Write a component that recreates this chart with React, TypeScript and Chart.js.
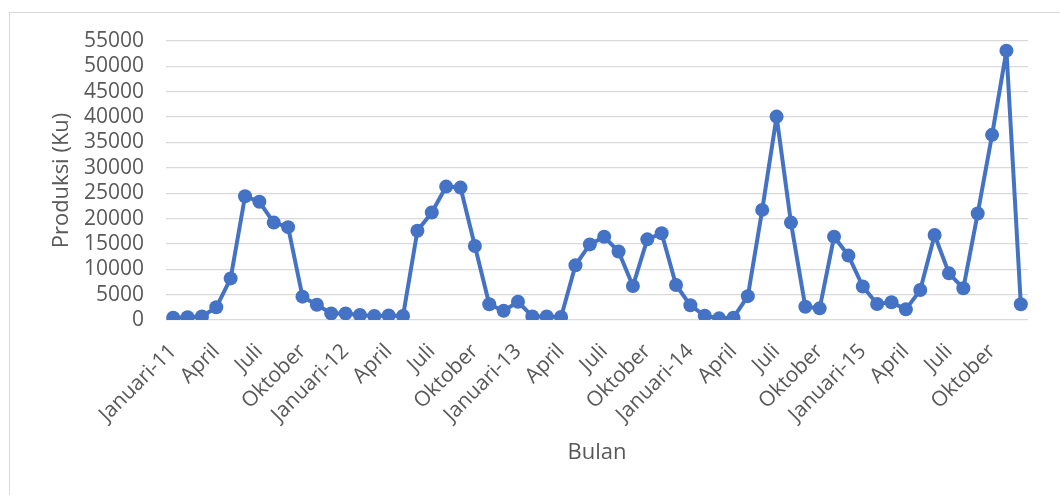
import React, { useEffect, useRef } from "react";
import { Chart, registerables } from "chart.js";

Chart.register(...registerables);

const monthNames = [
  "Januari", "Februari", "Maret", "April", "Mei", "Juni",
  "Juli", "Agustus", "September", "Oktober", "November", "Desember",
];
const years = ["11", "12", "13", "14", "15"];

const categories: string[] = years.flatMap((y) =>
  monthNames.map((m, i) => (i === 0 ? `${m}-${y}` : m))
);

const produksi2011 = [450, 550, 700, 2500, 8200, 24400, 23300, 19200, 18300, 4600, 3000, 1300];
const produksi2012 = [1300, 1000, 800, 900, 800, 17600, 21200, 26300, 26100, 14600, 3100, 1800];
const produksi2013 = [3600, 700, 700, 600, 10800, 14900, 16400, 13500, 6700, 15900, 17100, 6900];
const produksi2014 = [2900, 850, 330, 450, 4700, 21700, 40100, 19200, 2600, 2300, 16400, 12700];
const produksi2015 = [6600, 3150, 3500, 2100, 5900, 16750, 9200, 6250, 21000, 36500, 53100, 3100];

const produksi = [
  ...produksi2011, ...produksi2012, ...produksi2013, ...produksi2014, ...produksi2015,
];

const yTitle = "Produksi (Ku)";
const xTitle = "Bulan";

export default function App() {
  const canvasRef = useRef<HTMLCanvasElement | null>(null);

  useEffect(() => {
    if (!canvasRef.current) return;
    const textColor = "#595959";
    const chart = new Chart(canvasRef.current, {
      type: "line",
      data: {
        labels: categories,
        datasets: [
          {
            label: yTitle,
            data: produksi,
            borderColor: "#4472C4",
            backgroundColor: "#4472C4",
            borderWidth: 4,
            borderJoinStyle: "round",
            borderCapStyle: "round",
            pointRadius: 7,
            pointBackgroundColor: "#4472C4",
            pointBorderColor: "#4472C4",
            pointBorderWidth: 0,
            tension: 0,
          },
        ],
      },
      options: {
        responsive: false,
        animation: false,
        layout: { padding: { left: 40, top: 41, right: 32, bottom: 0 } },
        plugins: {
          legend: { display: false },
          tooltip: { enabled: false },
        },
        scales: {
          x: {
            offset: true,
            grid: { display: false, drawTicks: false },
            border: { display: false },
            ticks: {
              autoSkip: false,
              maxRotation: 45,
              minRotation: 45,
              padding: 19,
              color: textColor,
              font: { family: "'Open Sans'", size: 21 },
              callback: (_v: any, i: number) => (i % 3 === 0 ? categories[i] : ""),
            },
            title: {
              display: true,
              text: xTitle,
              color: textColor,
              font: { family: "'Open Sans'", size: 22 },
              padding: { top: 0, bottom: 29 },
            },
            afterFit: (scale: any) => {
              scale.height = 175;
            },
          },
          y: {
            min: 0,
            max: 55000,
            grid: { color: "#d9d9d9", lineWidth: 1.3, drawTicks: false },
            border: { display: false },
            ticks: {
              stepSize: 5000,
              autoSkip: false,
              padding: 22,
              color: textColor,
              font: { family: "'Open Sans'", size: 21 },
              callback: (v: any) => String(v),
            },
            title: {
              display: true,
              text: yTitle,
              color: textColor,
              font: { family: "'Open Sans'", size: 22 },
              padding: { top: 9, bottom: 0 },
            },
            afterFit: (scale: any) => {
              scale.width = 126;
            },
          },
        },
      },
    });
    return () => chart.destroy();
  }, []);

  return (
    <div
      style={{
        position: "fixed",
        left: 0,
        top: 0,
        width: 1060,
        height: 495,
        overflow: "hidden",
        background: "#ffffff",
      }}
    >
      <div
        style={{
          position: "absolute",
          left: 9,
          top: 12,
          width: 1100,
          height: 600,
          border: "1px solid #d9d9d9",
        }}
      />
      <canvas
        ref={canvasRef}
        width={1060}
        height={495}
        style={{ position: "absolute", left: 0, top: 0, width: 1060, height: 495 }}
      />
    </div>
  );
}
